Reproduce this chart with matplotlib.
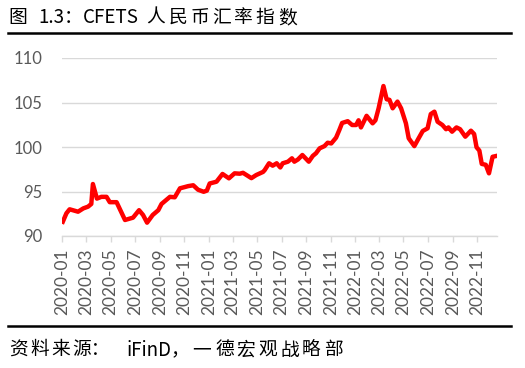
import numpy as np
import pandas as pd
import matplotlib
matplotlib.use("Agg")
import matplotlib.pyplot as plt
from matplotlib.lines import Line2D

plt.rcParams['font.family'] = ['Noto Sans CJK SC', 'DejaVu Sans']

# header / footer text, split into pieces so the wide spacing of the original can be kept
title_parts = ["图", "1.3：", "CFETS", "人", "民", "币", "汇", "率", "指", "数"]
source_parts = ["资", "料", "来", "源：", "iFinD，", "一", "德", "宏", "观", "战", "略", "部"]

# weekly CFETS index
dates = [
    "2020-01-03", "2020-01-12", "2020-01-20", "2020-02-10", "2020-02-23", "2020-03-06",
    "2020-03-14", "2020-03-18", "2020-03-28", "2020-04-08", "2020-04-21", "2020-04-29",
    "2020-05-16", "2020-06-06", "2020-06-26", "2020-07-11", "2020-07-21", "2020-07-31",
    "2020-08-14", "2020-08-28", "2020-09-05", "2020-09-26", "2020-10-08", "2020-10-21",
    "2020-11-02", "2020-11-10", "2020-11-23", "2020-12-05", "2020-12-19", "2020-12-27",
    "2021-01-03", "2021-01-20", "2021-02-04", "2021-02-20", "2021-03-06", "2021-03-19",
    "2021-03-27", "2021-04-17", "2021-04-29", "2021-05-16", "2021-05-20", "2021-05-31",
    "2021-06-09", "2021-06-19", "2021-06-28", "2021-07-04", "2021-07-17", "2021-07-27",
    "2021-08-02", "2021-08-11", "2021-08-22", "2021-09-07", "2021-09-17", "2021-09-25",
    "2021-10-04", "2021-10-16", "2021-10-24", "2021-11-02", "2021-11-14", "2021-11-22",
    "2021-11-29", "2021-12-13", "2021-12-24", "2022-01-03", "2022-01-09", "2022-01-15",
    "2022-01-29", "2022-02-13", "2022-02-20", "2022-02-28", "2022-03-12", "2022-03-20",
    "2022-03-27", "2022-04-04", "2022-04-16", "2022-04-25", "2022-05-07", "2022-05-14",
    "2022-05-28", "2022-06-08", "2022-06-18", "2022-06-30", "2022-07-08", "2022-07-17",
    "2022-07-25", "2022-08-06", "2022-08-15", "2022-08-21", "2022-08-30", "2022-09-10",
    "2022-09-19", "2022-10-02", "2022-10-16", "2022-10-24", "2022-10-30", "2022-11-06",
    "2022-11-12", "2022-11-22", "2022-11-30", "2022-12-09", "2022-12-19",
]
values = [
    91.6, 92.55, 93.0, 92.73, 93.1, 93.3,
    93.6, 95.84, 94.2, 94.4, 94.4, 93.8,
    93.8, 91.8, 92.06, 92.9, 92.36, 91.5,
    92.36, 92.9, 93.6, 94.4, 94.35, 95.36,
    95.5, 95.6, 95.7, 95.2, 94.97, 95.1,
    95.9, 96.1, 96.97, 96.48, 97.04, 97.0,
    97.1, 96.5, 96.85, 97.2, 97.4, 98.17,
    97.9, 98.17, 97.7, 98.17, 98.35, 98.73,
    98.35, 98.6, 99.1, 98.35, 99.0, 99.3,
    99.85, 100.1, 100.48, 100.4, 101.05, 101.9,
    102.7, 102.9, 102.47, 102.47, 103.0, 102.2,
    103.5, 102.66, 103.0, 104.35, 106.85, 105.36,
    105.3, 104.35, 105.1, 104.35, 102.66, 100.98,
    100.1, 101.0, 101.8, 102.1, 103.7, 103.97,
    102.84, 102.47, 102.0, 102.2, 101.72, 102.2,
    102.0, 101.16, 101.83, 101.46, 99.97, 99.6,
    98.1, 98.0, 97.04, 98.9, 99.0,
]
yticks = [90, 95, 100, 105, 110]
xticks = pd.date_range("2020-01-01", "2022-11-01", freq="2MS")

W, H = 525, 368

# pixel centres of each header / footer piece
title_pos = [18, 61, 111, 156, 178, 200, 222, 243, 265, 288]
source_pos = [19, 40, 61, 91, 158, 202, 225, 246, 268, 290, 311, 333]


def place_parts(fig, parts, centres, y_px, size=13.5):
    for s, cx in zip(parts, centres):
        fig.text(cx / W, 1 - y_px / H, s, fontsize=size, color="black",
                 ha="center", va="center")


x = pd.to_datetime(dates)

fig = plt.figure(figsize=(W / 100, H / 100), dpi=100)
ax = fig.add_axes([62 / W, 1 - 236 / H, (497 - 62) / W, (236 - 58) / H])

ax.plot(x, values, color="#ff0000", lw=3.2, solid_joinstyle="round", zorder=3)

ax.set_ylim(90, 110)
ax.set_xlim(pd.Timestamp("2020-01-01"), pd.Timestamp("2022-12-20"))
ax.set_yticks(yticks)
ax.set_yticklabels([str(v) for v in yticks], family=["Lato", "DejaVu Sans"],
                   fontsize=12, color="#595959")
ax.set_xticks(xticks)
ax.set_xticklabels([d.strftime("%Y-%m") for d in xticks], family=["Lato", "DejaVu Sans"],
                   fontsize=12.5, color="#595959", rotation=90)

ax.grid(axis="y", color="#d9d9d9", lw=1.0)
ax.set_axisbelow(True)
for s in ["top", "right", "left"]:
    ax.spines[s].set_visible(False)
ax.spines["bottom"].set_color("#d9d9d9")
ax.spines["bottom"].set_linewidth(1.0)

ax.tick_params(axis="y", length=0, pad=14)
ax.tick_params(axis="x", length=4, color="#d9d9d9", width=1, pad=5)

place_parts(fig, title_parts, title_pos, 17.5)
fig.add_artist(Line2D([8 / W, 511 / W], [1 - 33 / H, 1 - 33 / H], color="black", lw=1.8))
fig.add_artist(Line2D([8 / W, 511 / W], [1 - 326 / H, 1 - 326 / H], color="black", lw=1.8))
place_parts(fig, source_parts, source_pos, 350)

fig.savefig("out.png", dpi=100)
